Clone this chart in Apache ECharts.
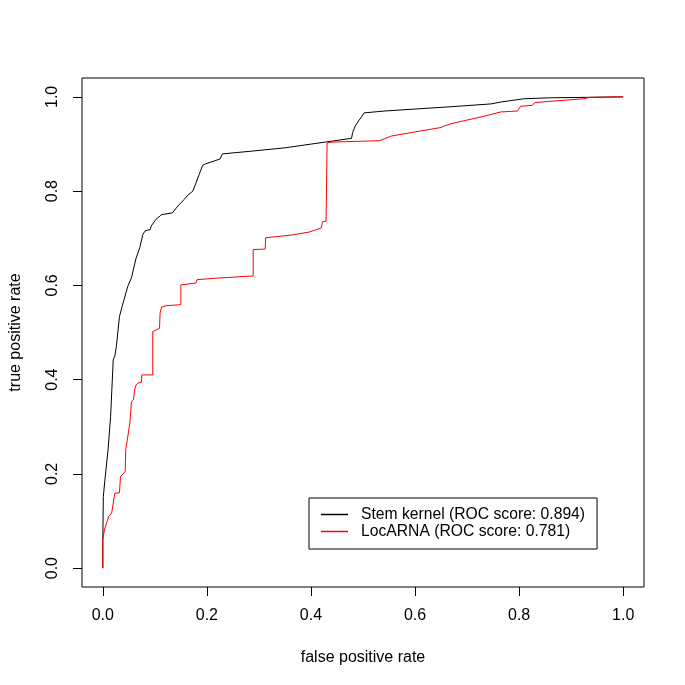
<!DOCTYPE html>
<html>
<head>
<meta charset="utf-8">
<script src="https://cdn.jsdelivr.net/npm/echarts@6/dist/echarts.min.js"></script>
<style>
html,body{margin:0;padding:0;background:#fff;}
#chart{width:685px;height:685px;}
</style>
</head>
<body>
<div id="chart"></div>
<script>
var tickValues = [0, 0.2, 0.4, 0.6, 0.8, 1.0];
var seriesNames = ['Stem kernel (ROC score: 0.894)', 'LocARNA (ROC score: 0.781)'];

var stemFpr = [0, 0, 0.001, 0.004, 0.010, 0.015, 0.020, 0.023, 0.026, 0.032, 0.037, 0.048, 0.055, 0.064, 0.071, 0.077, 0.081, 0.085, 0.091, 0.093, 0.102, 0.113, 0.134, 0.144, 0.150, 0.156, 0.163, 0.173, 0.179, 0.185, 0.192, 0.198, 0.225, 0.228, 0.230, 0.288, 0.351, 0.478, 0.480, 0.485, 0.491, 0.498, 0.502, 0.542, 0.669, 0.746, 0.765, 0.809, 0.860, 0.936, 1.0];
var stemTpr = [0, 0.060, 0.152, 0.187, 0.251, 0.322, 0.442, 0.450, 0.470, 0.534, 0.555, 0.598, 0.616, 0.658, 0.680, 0.708, 0.715, 0.717, 0.718, 0.726, 0.740, 0.750, 0.754, 0.768, 0.775, 0.782, 0.791, 0.800, 0.817, 0.835, 0.855, 0.858, 0.868, 0.870, 0.879, 0.885, 0.892, 0.912, 0.924, 0.938, 0.948, 0.959, 0.966, 0.970, 0.979, 0.985, 0.989, 0.996, 0.998, 0.999, 1.0];

var locFpr = [0, 0, 0.003, 0.007, 0.011, 0.017, 0.020, 0.023, 0.032, 0.034, 0.039, 0.043, 0.044, 0.047, 0.052, 0.055, 0.055, 0.059, 0.061, 0.064, 0.068, 0.074, 0.075, 0.096, 0.096, 0.099, 0.109, 0.110, 0.112, 0.113, 0.123, 0.150, 0.150, 0.179, 0.181, 0.214, 0.289, 0.289, 0.312, 0.313, 0.364, 0.396, 0.420, 0.422, 0.429, 0.431, 0.440, 0.532, 0.555, 0.650, 0.656, 0.669, 0.733, 0.765, 0.797, 0.803, 0.825, 0.831, 0.854, 0.924, 0.936, 1.0];
var locTpr = [0, 0.060, 0.081, 0.095, 0.109, 0.117, 0.138, 0.159, 0.160, 0.194, 0.200, 0.205, 0.251, 0.272, 0.308, 0.311, 0.353, 0.357, 0.378, 0.389, 0.393, 0.394, 0.410, 0.410, 0.502, 0.506, 0.509, 0.541, 0.544, 0.554, 0.557, 0.559, 0.601, 0.605, 0.612, 0.615, 0.620, 0.676, 0.677, 0.701, 0.707, 0.713, 0.722, 0.735, 0.736, 0.902, 0.904, 0.907, 0.917, 0.935, 0.938, 0.943, 0.959, 0.968, 0.970, 0.980, 0.982, 0.988, 0.990, 0.996, 0.999, 1.0];

function zip(a, b) { return a.map(function (v, i) { return [v, b[i]]; }); }

var FONT = '"Liberation Sans", Arial, Helvetica, sans-serif';
var chart = echarts.init(document.getElementById('chart'), null, {renderer: 'canvas'});

function axisCommon() {
  return {
    type: 'value',
    min: -0.04,
    max: 1.04,
    splitLine: {show: false},
    axisLine: {show: false, onZero: false},
    axisTick: {show: true, inside: false, length: 9, customValues: tickValues, lineStyle: {color: '#000', width: 1}},
    axisLabel: {customValues: tickValues, color: '#000', fontFamily: FONT, fontSize: 16,
      formatter: function (v) { return v.toFixed(1); }},
    nameLocation: 'middle',
    nameTextStyle: {color: '#000', fontFamily: FONT, fontSize: 16}
  };
}

var xAx = axisCommon();
xAx.name = 'false positive rate';
xAx.nameGap = 63;
xAx.axisLabel.margin = 21;

var yAx = axisCommon();
yAx.name = 'true positive rate';
yAx.nameGap = 58;
yAx.axisLabel.rotate = 90;
yAx.axisLabel.margin = 21;

chart.setOption({
  animation: false,
  backgroundColor: '#fff',
  grid: {left: 78, right: 41, top: 78, bottom: 98, show: true, borderColor: '#000', borderWidth: 1, backgroundColor: 'transparent'},
  xAxis: xAx,
  yAxis: yAx,
  legend: {
    left: 309, top: 498,
    orient: 'vertical',
    padding: [8, 12, 9, 12],
    itemGap: 0,
    itemWidth: 27, itemHeight: 1.5,
    borderColor: '#000', borderWidth: 1, borderRadius: 0,
    backgroundColor: '#fff',
    selectedMode: false,
    textStyle: {color: '#000', fontFamily: FONT, fontSize: 15.7, lineHeight: 17, padding: [0, 0, 0, 8]},
    data: [
      {name: seriesNames[0], icon: 'rect', itemStyle: {color: '#000'}},
      {name: seriesNames[1], icon: 'rect', itemStyle: {color: '#ff0000'}}
    ]
  },
  series: [
    {name: seriesNames[0], type: 'line', data: zip(stemFpr, stemTpr), showSymbol: false, symbol: 'none',
     lineStyle: {color: '#000', width: 1}, itemStyle: {color: '#000'}},
    {name: seriesNames[1], type: 'line', data: zip(locFpr, locTpr), showSymbol: false, symbol: 'none',
     lineStyle: {color: '#ff0000', width: 1}, itemStyle: {color: '#ff0000'}}
  ]
});
</script>
</body>
</html>
